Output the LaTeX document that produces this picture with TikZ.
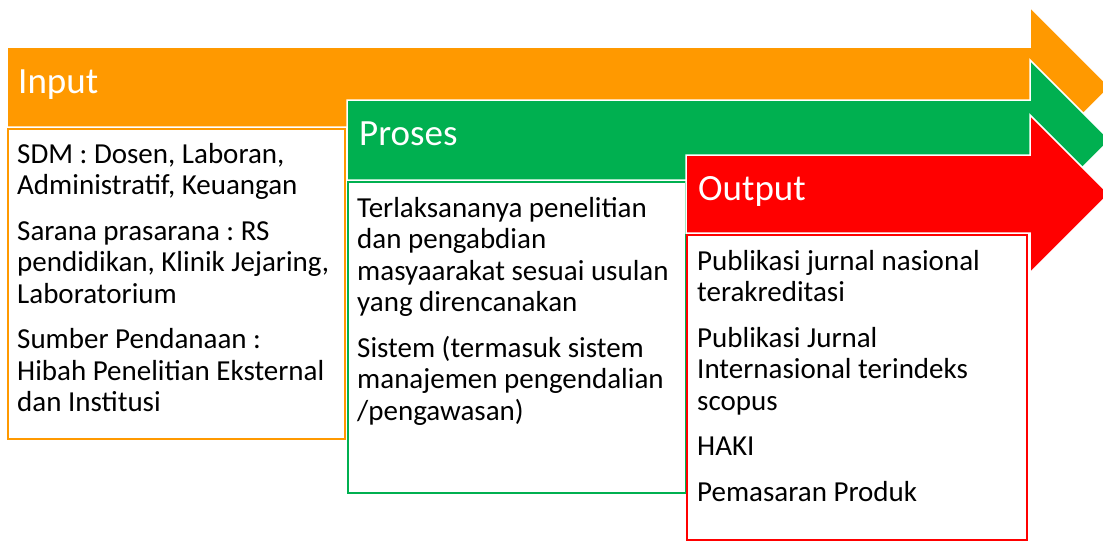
\documentclass[tikz,border=0pt]{standalone}
\usepackage{fontspec}
\setmainfont{Carlito}
\frenchspacing
\definecolor{inorange}{HTML}{FF9900}
\definecolor{prgreen}{HTML}{00B050}
\definecolor{outred}{HTML}{FF0000}
\begin{document}
\begin{tikzpicture}
  [x=1pt,y=-1pt,every node/.style={inner sep=0pt}]
  \tikzstyle{arrowbody} = [draw=white,line width=1.5pt,line join=miter]
  \tikzstyle{textbox} = [fill=white,line width=2pt]
  \tikzstyle{header} = [anchor=base west,text=white,font=\fontsize{37}{40}\selectfont]
  \tikzstyle{body} = [anchor=north west,align=left,font=\fontsize{29}{31.5}\selectfont]
  \useasboundingbox (0,0) rectangle (1103,542);
  \clip (0,0) rectangle (1103,542);

  % arrows and boxes, back to front
  \foreach \lx/\ty/\by/\bx/\bb/\col in {7/47/127/345/439/inorange,347/100/180/686/493/prgreen,686/155/233/1027/540/outred}
  {
    \draw[arrowbody,fill=\col] (\lx,\ty) -- (1030,\ty) -- (1030,\ty-40)
      -- ({1030+(\by-\ty)/2+40},{(\ty+\by)/2}) -- (1030,\by+40) -- (1030,\by) -- (\lx,\by) -- cycle;
    \draw[textbox,draw=\col] (\lx+1,\by+2) rectangle (\bx,\bb);
  }

  \node[header] (inhead) at (18,93) {Input};
  \node[header] (prhead) at (359,145) {Proses};
  \node[header] (outhead) at (698,200) {Output};

  \node[body] (intext) at (17,141) {\strut SDM : Dosen, Laboran,\\ Administratif, Keuangan\\[14pt]
    Sarana prasarana : RS\\ pendidikan, Klinik Jejaring,\\ Laboratorium\\[14pt]
    Sumber Pendanaan :\\ Hibah Penelitian Eksternal\\ dan Institusi};
  \node[body] (prtext) at (357,195) {\strut Terlaksananya penelitian\\ dan pengabdian\\ masyaarakat sesuai usulan\\ yang direncanakan\\[14pt]
    Sistem (termasuk sistem\\ manajemen pengendalian\\ /pengawasan)};
  \node[body] (outtext) at (697,248) {\strut Publikasi jurnal nasional\\ terakreditasi\\[14pt]
    Publikasi Jurnal\\ Internasional terindeks\\ scopus\\[14pt]
    HAKI\\[14pt]
    Pemasaran Produk};
\end{tikzpicture}
\end{document}
